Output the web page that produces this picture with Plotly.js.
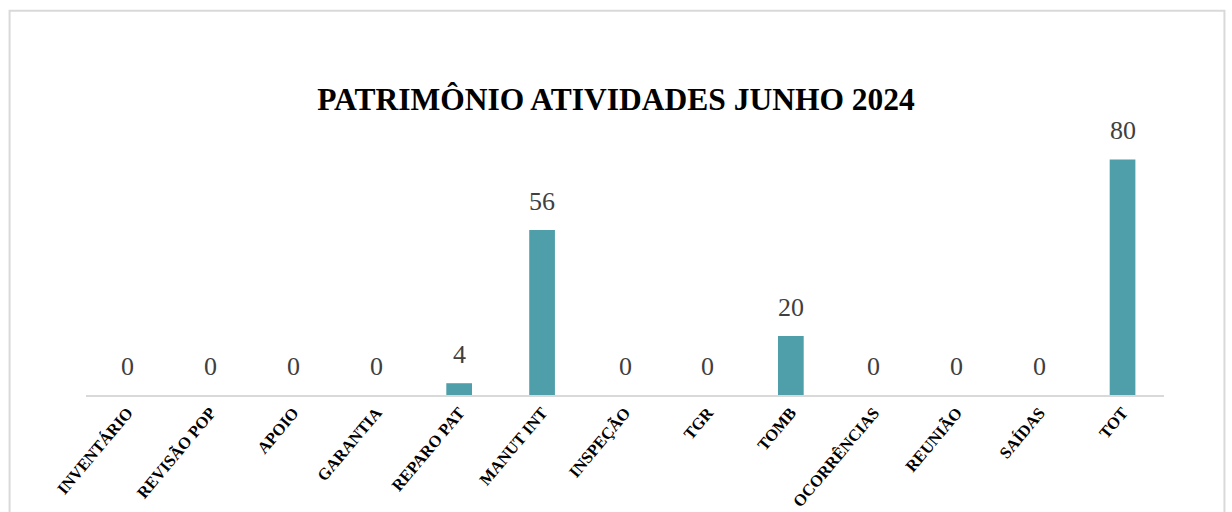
<!DOCTYPE html>
<html>
<head>
<meta charset="utf-8">
<script src="https://cdn.plot.ly/plotly-3.0.1.min.js"></script>
<style>html,body{margin:0;padding:0;background:#fff;}#chart{width:1232px;height:512px;}</style>
</head>
<body>
<div id="chart"></div>
<script>
const categories = ["INVENTÁRIO","REVISÃO POP","APOIO","GARANTIA","REPARO PAT","MANUT INT","INSPEÇÃO","TGR","TOMB","OCORRÊNCIAS","REUNIÃO","SAÍDAS","TOT"];
const values = [0,0,0,0,4,56,0,0,20,0,0,0,80];
const chartTitle = "PATRIMÔNIO ATIVIDADES JUNHO 2024";

const SERIF = "Liberation Serif";

const trace = {
  type: 'bar',
  x: categories,
  y: values,
  width: 0.31,
  marker: {color: '#4f9fab'},
  hoverinfo: 'x+y'
};

const annotations = categories.map((c, i) => ({
  x: c, y: values[i], xref: 'x', yref: 'y',
  text: String(values[i]), showarrow: false,
  yanchor: 'bottom', yshift: 12,
  font: {family: SERIF, size: 26, color: '#404040'}
}));

const layout = {
  width: 1232, height: 512,
  paper_bgcolor: '#ffffff', plot_bgcolor: '#ffffff',
  margin: {l: 85.5, r: 67.5, t: 129.5, b: 117},
  font: {family: SERIF},
  title: {
    text: '<b>' + chartTitle + '</b>',
    font: {family: SERIF, size: 31.5, color: '#000000'},
    x: 0.5, xref: 'container', xanchor: 'center',
    y: 1 - 99/512, yref: 'container', yanchor: 'middle'
  },
  xaxis: {
    type: 'category',
    range: [-0.5, 12.5],
    tickangle: -50,
    showline: true, linecolor: '#d9d9d9', linewidth: 1.5,
    ticks: '', showgrid: false, zeroline: false,
    tickfont: {family: SERIF, size: 16.5, color: '#000000', weight: 'bold'}
  },
  yaxis: {
    range: [0, 90],
    visible: false, showgrid: false, zeroline: false
  },
  annotations: annotations,
  shapes: [{
    type: 'rect', xref: 'paper', yref: 'paper',
    x0: (9 - 85.5)/1079, x1: (1225 - 85.5)/1079,
    y0: (395 - 530)/265.5, y1: (395 - 10)/265.5,
    line: {color: '#d9d9d9', width: 2}, fillcolor: 'rgba(0,0,0,0)', layer: 'below'
  }],
  showlegend: false
};

Plotly.newPlot('chart', [trace], layout, {displayModeBar: false, staticPlot: true});
</script>
</body>
</html>
